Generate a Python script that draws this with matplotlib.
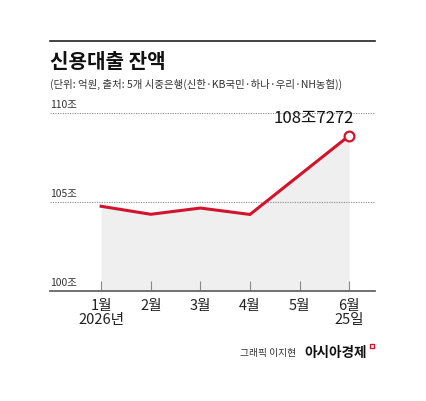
import matplotlib.pyplot as plt
from matplotlib.patches import Rectangle

plt.rcParams['font.family'] = ['Noto Sans CJK KR', 'DejaVu Sans']

# 데이터 (조원)
months = ['1월\n2026년', '2월', '3월', '4월', '5월', '6월\n25일']
x_pos = [0, 1, 2, 3, 5]          # 5월 값 없음
balance = [104.76, 104.31, 104.66, 104.30, 108.7272]
y_ticks = [100, 105, 110]
y_labels = ['100조', '105조', '110조']
last_label = '108조7272'

red = '#d3122b'

fig = plt.figure(figsize=(4.26, 4.02), dpi=100)
ax = fig.add_axes([50/426, 1-292/402, 325/426, 178/402])

ax.fill_between(x_pos, balance, 100, color='#efefef', lw=0, zorder=1)
ax.plot(x_pos, balance, color=red, lw=2.2, zorder=3, solid_joinstyle='miter')
ax.plot(x_pos[-1], balance[-1], 'o', ms=7, mfc='white', mec=red, mew=1.6, zorder=4)
ax.text(x_pos[-1] - 0.72, balance[-1] + 0.55, last_label, fontsize=12, fontweight='medium',
        ha='center', va='bottom', color='#111111')

for v in y_ticks[1:]:
    ax.axhline(v, color='#888888', lw=0.8, ls=(0, (1, 1.2)), zorder=2)
for v, lab in zip(y_ticks, y_labels):
    ax.text(-1.03, v + 0.25, lab, fontsize=7.5, ha='left', va='bottom', color='#333333')

ax.set_xlim(-1.03, 5.52)
ax.set_ylim(100, 110)
ax.set_xticks(range(len(months)))
ax.set_xticklabels(months, fontsize=10.5, linespacing=1.05, color='#222222')
ax.set_yticks([])
ax.tick_params(axis='x', direction='in', length=7, width=0.8, color='#888888', pad=5)
for s in ['top', 'right', 'left']:
    ax.spines[s].set_visible(False)
ax.spines['bottom'].set_color('#666666')
ax.spines['bottom'].set_linewidth(1.3)
ax.set_facecolor('none')

# 상단 선, 제목
fig.add_artist(plt.Line2D([50/426, 375/426], [1-42/402, 1-42/402], color='#222222', lw=1.2))
fig.text(50/426, 1-61/402, '신용대출 잔액', fontsize=14.5, fontweight='bold', va='center', color='#111111')
fig.text(50/426, 1-84/402, '(단위: 억원, 출처: 5개 시중은행(신한·KB국민·하나·우리·NH농협))',
         fontsize=7.5, va='center', color='#333333')

# 출처
fig.text(240/426, 1-353/402, '그래픽 이지현', fontsize=7, va='center', color='#333333')
fig.text(304/426, 1-353/402, '아시아경제', fontsize=9.8, fontweight='bold', va='center', color='#111111')
fig.add_artist(Rectangle((370/426, 1-349/402), 4/426, 4/402, fill=False, ec=red, lw=1.0,
                         transform=fig.transFigure))

fig.savefig('out.png', dpi=100, facecolor='white')
